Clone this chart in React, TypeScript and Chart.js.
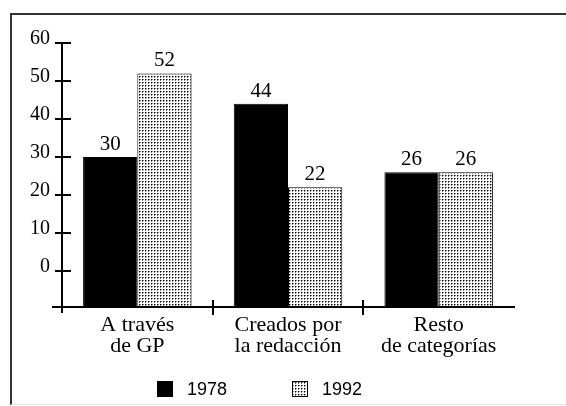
import React, { useEffect, useRef } from 'react';
import { Chart, registerables } from 'chart.js';

Chart.register(...registerables);

const categories: string[][] = [
  ['A través', 'de GP'],
  ['Creados por', 'la redacción'],
  ['Resto', 'de categorías'],
];
const seriesNames = ['1978', '1992'];
const values1978 = [30, 44, 26];
const values1992 = [52, 22, 26];
const yTicks = [0, 10, 20, 30, 40, 50, 60];
const yMin = -9.5;
const yMax = 60;

const SERIF = "'Liberation Serif', 'Times New Roman', serif";
const SANS = "'Liberation Sans', Arial, sans-serif";

function makeDots(): CanvasPattern | string {
  const c = document.createElement('canvas');
  c.width = 3;
  c.height = 3;
  const g = c.getContext('2d');
  if (!g) return '#ccc';
  g.fillStyle = '#ffffff';
  g.fillRect(0, 0, 3, 3);
  g.fillStyle = '#808080';
  g.fillRect(2, 1, 1, 1);
  g.fillRect(1, 2, 1, 1);
  g.fillStyle = '#000000';
  g.fillRect(1, 1, 1, 1);
  const p = g.createPattern(c, 'repeat');
  return p || '#ccc';
}

export default function App() {
  const ref = useRef<HTMLCanvasElement | null>(null);

  useEffect(() => {
    const canvas = ref.current;
    if (!canvas) return;
    const dots = makeDots();

    const axesPlugin = {
      id: 'customAxes',
      afterDatasetsDraw(chart: any) {
        const ctx = chart.ctx;
        const xs = chart.scales.x;
        const ys = chart.scales.y;
        const area = chart.chartArea;
        const axisX = area.left;
        const axisY = area.bottom;
        ctx.save();
        ctx.strokeStyle = '#000';
        ctx.lineWidth = 2;
        ctx.beginPath();
        ctx.moveTo(axisX, ys.getPixelForValue(yTicks[yTicks.length - 1]));
        ctx.lineTo(axisX, axisY + 6);
        ctx.stroke();
        yTicks.forEach((v) => {
          const py = Math.round(ys.getPixelForValue(v));
          ctx.beginPath();
          ctx.moveTo(axisX - 7, py);
          ctx.lineTo(axisX + 9, py);
          ctx.stroke();
        });
        ctx.beginPath();
        ctx.moveTo(axisX - 10, axisY);
        ctx.lineTo(area.right + 1, axisY);
        ctx.stroke();
        for (let i = 0; i < categories.length - 1; i++) {
          const px = Math.round((xs.getPixelForValue(i) + xs.getPixelForValue(i + 1)) / 2);
          ctx.beginPath();
          ctx.moveTo(px, axisY - 7);
          ctx.lineTo(px, axisY + 8);
          ctx.stroke();
        }
        ctx.fillStyle = '#000';
        ctx.font = `21px ${SERIF}`;
        ctx.textAlign = 'center';
        ctx.textBaseline = 'alphabetic';
        chart.data.datasets.forEach((ds: any, di: number) => {
          const meta = chart.getDatasetMeta(di);
          meta.data.forEach((el: any, i: number) => {
            ctx.fillText(String(ds.data[i]), el.x, el.y - 7);
          });
        });
        ctx.restore();
      },
    };

    const legendPlugin = {
      id: 'customLegend',
      afterDraw(chart: any) {
        const ctx = chart.ctx;
        const starts = [157, 292];
        const cy = 389;
        ctx.save();
        chart.data.datasets.forEach((ds: any, di: number) => {
          const x0 = starts[di];
          ctx.fillStyle = ds.backgroundColor;
          ctx.fillRect(x0, cy - 8, 16, 16);
          ctx.strokeStyle = '#000';
          ctx.lineWidth = 1;
          ctx.strokeRect(x0 + 0.5, cy - 7.5, 15, 15);
          ctx.fillStyle = '#000';
          ctx.font = `18px ${SANS}`;
          ctx.textAlign = 'left';
          ctx.textBaseline = 'middle';
          ctx.fillText(ds.label, x0 + 30, cy + 1);
        });
        ctx.restore();
      },
    };

    const chart = new Chart(canvas, {
      type: 'bar',
      data: {
        labels: categories,
        datasets: [
          {
            label: seriesNames[0],
            data: values1978,
            backgroundColor: '#000000',
            borderColor: '#000000',
            borderWidth: 1,
            base: yMin,
          } as any,
          {
            label: seriesNames[1],
            data: values1992,
            backgroundColor: dots as any,
            borderColor: '#000000',
            borderWidth: 1,
            base: yMin,
          } as any,
        ],
      },
      options: {
        animation: false,
        responsive: false,
        maintainAspectRatio: false,
        layout: { padding: { top: 43, right: 52, bottom: 0, left: 0 } },
        datasets: { bar: { categoryPercentage: 0.72, barPercentage: 1.0 } },
        plugins: {
          legend: { display: false },
          tooltip: { enabled: false },
          title: { display: false },
        },
        scales: {
          x: {
            grid: { display: false, drawTicks: false },
            border: { display: false },
            ticks: {
              color: '#000',
              padding: 8,
              maxRotation: 0,
              autoSkip: false,
              font: { family: SERIF, size: 22, lineHeight: 0.95 },
            },
            afterFit: (s: any) => {
              s.height = 99;
            },
          },
          y: {
            min: yMin,
            max: yMax,
            grid: { display: false, drawTicks: false },
            border: { display: false },
            afterBuildTicks: (s: any) => {
              s.ticks = yTicks.map((v) => ({ value: v }));
            },
            ticks: {
              color: '#000',
              padding: 12,
              labelOffset: -4,
              font: { family: SERIF, size: 20 },
            },
            afterFit: (s: any) => {
              s.width = 62;
            },
          },
        },
      },
      plugins: [axesPlugin, legendPlugin],
    });

    return () => chart.destroy();
  }, []);

  return (
    <div style={{ position: 'absolute', left: 0, top: 0, width: 566, height: 406, background: '#fff' }}>
      <div
        style={{
          position: 'absolute',
          left: 10,
          top: 13,
          width: 556,
          height: 392,
          boxSizing: 'border-box',
          borderLeft: '2px solid #333',
          borderTop: '2px solid #333',
          borderBottom: '1px solid #e4e4e4',
        }}
      />
      <canvas ref={ref} width={566} height={406} style={{ position: 'absolute', left: 0, top: 0 }} />
    </div>
  );
}
